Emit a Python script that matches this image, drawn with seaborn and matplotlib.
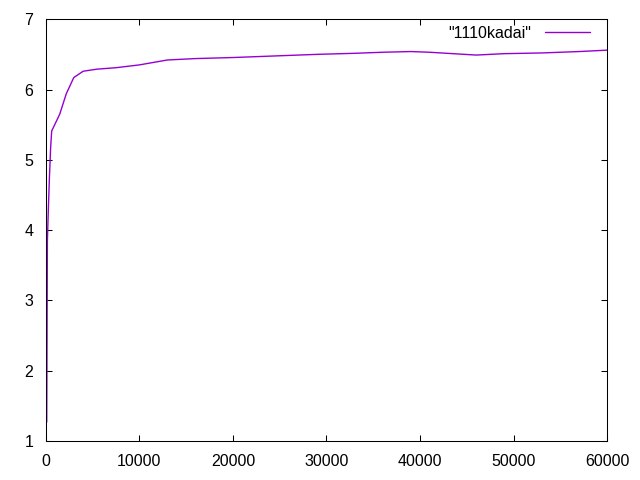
import seaborn as sns
import matplotlib.pyplot as plt
import pandas as pd

# values
steps = [110, 130, 180, 280, 390, 530, 640, 1500, 2200, 3000, 4000, 5500, 7500,
         10000, 13000, 16000, 20000, 23000, 26000, 29000, 33000, 36000, 39000,
         41000, 43500, 46000, 49000, 53000, 57000, 60000]
score = [1.27, 1.95, 3.85, 4.28, 4.72, 5.18, 5.41, 5.65, 5.94, 6.17, 6.26, 6.29, 6.31,
         6.35, 6.42, 6.44, 6.455, 6.47, 6.485, 6.50, 6.515, 6.53, 6.54,
         6.53, 6.51, 6.49, 6.51, 6.52, 6.54, 6.56]
series_name = '"1110kadai"'

df = pd.DataFrame({'x': steps, 'y': score, 'name': series_name})

sns.set_style('ticks')
plt.rcParams['font.family'] = ['Liberation Sans', 'DejaVu Sans']
plt.rcParams['text.color'] = 'black'
plt.rcParams['xtick.color'] = 'black'
plt.rcParams['ytick.color'] = 'black'

fig = plt.figure(figsize=(6.4, 4.8), dpi=100)
ax = fig.add_axes([0.0714, 0.081, 0.8775, 0.879])

sns.lineplot(data=df, x='x', y='y', hue='name', palette=['#9400d3'],
             linewidth=1.0, ax=ax, sort=False)

ax.set_xlim(0, 60000)
ax.set_ylim(1, 7)
ax.set_xticks(range(0, 60001, 10000))
ax.set_yticks(range(1, 8))
ax.set_xlabel('')
ax.set_ylabel('')
for s in ax.spines.values():
    s.set_visible(True)
    s.set_linewidth(0.75)
    s.set_color('black')
ax.tick_params(direction='in', length=4, width=0.75, top=True, right=True,
               labelsize=11.5, pad=9, colors='black')

leg = ax.legend(loc='upper right', frameon=False, markerfirst=False,
                handlelength=2.8, handletextpad=0.9, fontsize=11.5,
                bbox_to_anchor=(0.995, 1.018))

fig.savefig('out.png', dpi=100)
